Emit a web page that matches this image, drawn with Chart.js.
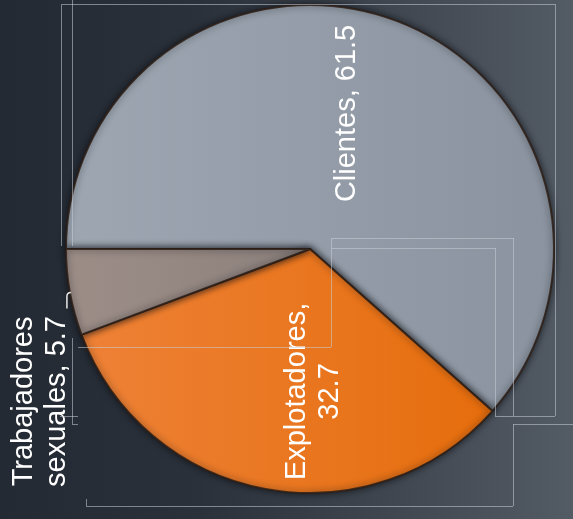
<!DOCTYPE html>
<html>
<head>
<meta charset="utf-8">
<script src="https://cdn.jsdelivr.net/npm/chart.js@4/dist/chart.umd.min.js"></script>
<style>
  html, body { margin: 0; padding: 0; background: #262c35; }
  #wrap { width: 573px; height: 519px; position: relative; }
</style>
</head>
<body>
<div id="wrap"><canvas id="pieChart"></canvas></div>
<script>
// Chart data
const categories = ['Clientes', 'Explotadores', 'Trabajadores sexuales'];
const values = [61.5, 32.7, 5.7];

// Slice styling (left -> right gradient stops)
const sliceGradients = [
    ['#9da6b1', '#8a939f'],
    ['#ee8238', '#e46a06'],
    ['#9c8d87', '#7d7572']
];

// Label placement: radial fraction and angle shift (degrees) from slice middle
const labelPlacement = [
    { frac: 0.576, shift: -5.5, wrap: false },
    { frac: 0.584, shift: -12.1, wrap: true },
    { frac: 1.27, shift: -19.2, wrap: true, leader: true }
];

// Thin frame lines left over from the original text boxes
const frameLines = [
    [62, 4.5, 555, 4.5], [61.5, 4, 61.5, 246], [72.5, 0, 72.5, 246],
    [555.5, 4, 555.5, 416], [331.5, 238.5, 513.5, 238.5], [513.5, 238, 513.5, 416],
    [331.5, 248.5, 495.5, 248.5], [495.5, 248, 495.5, 416], [331.5, 238, 331.5, 347],
    [78, 347.5, 331, 347.5], [72.5, 338, 72.5, 424], [72, 424.5, 78, 424.5],
    [495, 416.5, 555, 416.5], [60, 416.5, 78, 416.5],
    [513.5, 424.5, 573, 424.5], [513.5, 424, 513.5, 506], [86, 506.5, 513, 506.5],
    [86.5, 499, 86.5, 506]
];

const backgroundPlugin = {
    id: 'background',
    beforeDraw(chart) {
        const ctx = chart.ctx;
        const g = ctx.createLinearGradient(0, 0, chart.width, 0);
        g.addColorStop(0, '#242a33');
        g.addColorStop(0.35, '#2b313a');
        g.addColorStop(1, '#535b64');
        ctx.save();
        ctx.fillStyle = g;
        ctx.fillRect(0, 0, chart.width, chart.height);
        ctx.restore();
    }
};

const shadowPlugin = {
    id: 'sliceShadow',
    beforeDatasetsDraw(chart) {
        chart.ctx.save();
        chart.ctx.shadowColor = 'rgba(10, 12, 18, 0.75)';
        chart.ctx.shadowBlur = 7;
    },
    afterDatasetsDraw(chart) {
        chart.ctx.restore();
    }
};

const labelPlugin = {
    id: 'sliceLabels',
    afterDatasetsDraw(chart) {
        const ctx = chart.ctx;
        const arcs = chart.getDatasetMeta(0).data;
        ctx.save();
        ctx.font = '29px "Liberation Sans", Arial, sans-serif';
        ctx.fillStyle = '#ffffff';
        ctx.textAlign = 'center';
        ctx.textBaseline = 'middle';
        arcs.forEach((arc, i) => {
            const p = arc.getProps(['x', 'y', 'startAngle', 'endAngle', 'outerRadius'], true);
            const place = labelPlacement[i];
            const mid = (p.startAngle + p.endAngle) / 2;
            const ang = mid + place.shift * Math.PI / 180;
            const lx = p.x + Math.cos(ang) * p.outerRadius * place.frac;
            const ly = p.y + Math.sin(ang) * p.outerRadius * place.frac;

            const text = categories[i] + ', ' + values[i];
            let lines = [text];
            if (place.wrap) {
                const cut = text.indexOf(' ');
                lines = [text.slice(0, cut), text.slice(cut + 1)];
            }

            ctx.save();
            ctx.translate(lx, ly);
            ctx.rotate(-Math.PI / 2);
            const lh = 33;
            lines.forEach((line, k) => {
                ctx.fillText(line, 0, (k - (lines.length - 1) / 2) * lh);
            });
            ctx.restore();

            if (place.leader) {
                const ex = p.x + Math.cos(mid) * p.outerRadius;
                const ey = p.y + Math.sin(mid) * p.outerRadius;
                ctx.strokeStyle = '#e8e8e8';
                ctx.lineWidth = 1.5;
                ctx.beginPath();
                ctx.moveTo(ex + 1, ey);
                ctx.quadraticCurveTo(ex - 3, ey, ex - 3, ey + 4);
                ctx.lineTo(ex - 3, ey + 16);
                ctx.stroke();
            }
        });
        ctx.restore();
    }
};

const framePlugin = {
    id: 'frames',
    afterDraw(chart) {
        const ctx = chart.ctx;
        ctx.save();
        ctx.strokeStyle = 'rgba(200, 206, 214, 0.55)';
        ctx.lineWidth = 1;
        frameLines.forEach(s => {
            ctx.beginPath();
            ctx.moveTo(s[0], s[1]);
            ctx.lineTo(s[2], s[3]);
            ctx.stroke();
        });
        ctx.restore();
    }
};

function sliceFill(context) {
    const i = context.dataIndex;
    const area = context.chart.chartArea;
    if (!area) return sliceGradients[i][0];
    const g = context.chart.ctx.createLinearGradient(area.left, 0, area.right, 0);
    g.addColorStop(0, sliceGradients[i][0]);
    g.addColorStop(1, sliceGradients[i][1]);
    return g;
}

new Chart(document.getElementById('pieChart'), {
    type: 'pie',
    data: {
        labels: categories,
        datasets: [{
            data: values,
            backgroundColor: sliceFill,
            borderColor: 'rgba(45, 30, 22, 0.85)',
            borderWidth: 2
        }]
    },
    options: {
        responsive: true,
        maintainAspectRatio: false,
        animation: false,
        rotation: 270,
        radius: 244,
        layout: {
            padding: { left: 66, right: 19, top: 5, bottom: 26 }
        },
        plugins: {
            legend: { display: false },
            tooltip: { enabled: false }
        }
    },
    plugins: [backgroundPlugin, shadowPlugin, labelPlugin, framePlugin]
});
</script>
</body>
</html>
